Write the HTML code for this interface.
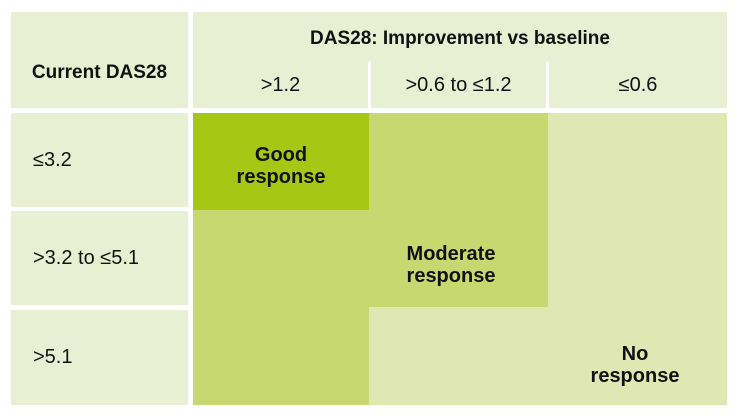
<!DOCTYPE html><html><head><style>
body{margin:0;width:740px;height:420px;background:#fff;position:relative;font-family:"Liberation Sans",sans-serif;overflow:hidden}
div{position:absolute}
.h{background:#e9efd2}
.t{color:#111;font-size:20px;display:flex;align-items:center}
.b{font-weight:bold;color:#111;font-size:20px;text-align:center;line-height:22px}
</style></head><body>
<div class="h t" style="left:11px;top:12px;width:177px;height:96px;justify-content:center;font-weight:bold;font-size:19px;padding-top:26px;box-sizing:border-box">Current DAS28</div>
<div class="h" style="left:193px;top:12px;width:534px;height:96px"></div>
<div class="b" style="left:193px;top:28px;width:534px;font-size:19px">DAS28: Improvement vs baseline</div>
<div style="left:368px;top:62px;width:3px;height:46px;background:#fff"></div>
<div style="left:546px;top:62px;width:3px;height:46px;background:#fff"></div>
<div class="t" style="left:193px;top:62px;width:175px;height:46px;justify-content:center">&gt;1.2</div>
<div class="t" style="left:371px;top:62px;width:175px;height:46px;justify-content:center">&gt;0.6 to ≤1.2</div>
<div class="t" style="left:549px;top:62px;width:178px;height:46px;justify-content:center">≤0.6</div>
<div class="h t" style="left:11px;top:113px;width:177px;height:94px;padding-left:22px;box-sizing:border-box">≤3.2</div>
<div class="h t" style="left:11px;top:211px;width:177px;height:94px;padding-left:22px;box-sizing:border-box">&gt;3.2 to ≤5.1</div>
<div class="h t" style="left:11px;top:310px;width:177px;height:95px;padding-left:22px;box-sizing:border-box">&gt;5.1</div>
<div style="left:193px;top:113px;width:534px;height:292px;background:#dfe8b3"></div>
<div style="left:369px;top:113px;width:179px;height:194px;background:#c6d86f"></div>
<div style="left:193px;top:113px;width:176px;height:292px;background:#c6d86f"></div>
<div style="left:193px;top:113px;width:176px;height:97px;background:#a8c614"></div>
<div class="b" style="left:193px;top:144px;width:176px">Good<br>response</div>
<div class="b" style="left:369px;top:243px;width:164px">Moderate<br>response</div>
<div class="b" style="left:560px;top:343px;width:150px">No<br>response</div>
</body></html>
